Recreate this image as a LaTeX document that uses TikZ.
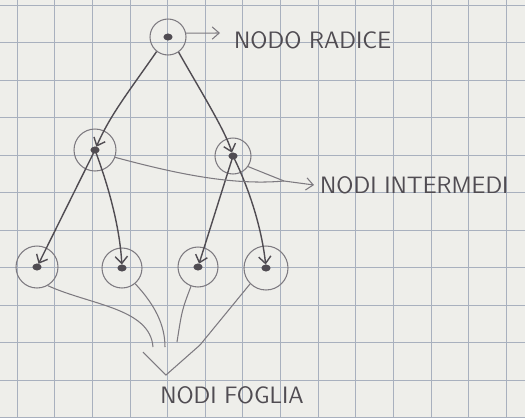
\documentclass[tikz,border=0pt]{standalone}
\usetikzlibrary{arrows.meta}
\definecolor{paper}{RGB}{238,238,234}
\definecolor{gridl}{RGB}{168,176,190}
\definecolor{pencil}{RGB}{80,76,82}
\definecolor{ring}{RGB}{125,122,128}
\newcommand{\GX}{37.65}
\newcommand{\GY}{37.5}

\begin{document}
\begin{tikzpicture}[x=0.02cm, y=-0.02cm,
    gridline/.style={draw=gridl, line width=0.5pt},
    vertex/.style={circle, draw=ring, line width=0.6pt, inner sep=0pt, minimum size=#1},
    vertex/.default=0.8cm,
    edge/.style={draw=pencil, line width=0.8pt, shorten >=2pt,
      -{Straight Barb[length=4pt, width=7pt]}},
    pointer/.style={draw=ring, line width=0.6pt},
    tag/.style={font=\sffamily\fontsize{13.5}{15}\selectfont, text=pencil},
  ]

  %% ================= the squared paper =================
  \fill[paper] (0,0) rectangle (525,417);
  \useasboundingbox (0,0) rectangle (525,417);
  \foreach \i in {0,...,13} {
    \draw[gridline] ({17+\i*\GX},0) -- ({17+\i*\GX},417);
  }
  \foreach \j in {0,...,11} {
    \draw[gridline] (0,{5+\j*\GY}) -- (525,{5+\j*\GY});
  }

  %% ================= the tree =================
  \node[vertex=0.72cm] (root)  at (168,37)  {};
  \node[vertex=0.84cm] (intL)  at (95,150)  {};
  \node[vertex=0.72cm] (intR)  at (233,156) {};
  \node[vertex=0.84cm] (leafA) at (37,267)  {};
  \node[vertex=0.80cm] (leafB) at (122,268) {};
  \node[vertex=0.80cm] (leafC) at (198,267) {};
  \node[vertex=0.88cm] (leafD) at (266,268) {};
  \foreach \n in {root,intL,intR,leafA,leafB,leafC,leafD} {
    \fill[pencil] (\n) ellipse (2.6pt and 2pt);
  }

  \draw[edge] (root.232) .. controls (130,90) and (110,115) .. (intL.center);
  \draw[edge] (root.305) .. controls (200,90) and (225,130) .. (intR.center);
  \draw[edge] (intL.center) -- (leafA.center);
  \draw[edge] (intL.center) .. controls (110,190) and (120,230) .. (leafB.center);
  \draw[edge] (intR.center) -- (leafC.center);
  \draw[edge] (intR.center) .. controls (250,190) and (262,230) .. (leafD.center);

  %% ================= the labels =================
  \node[tag, anchor=west] (lblRoot) at (228,40)  {NODO RADICE};
  \node[tag, anchor=west] (lblMid)  at (314,185) {NODI INTERMEDI};
  \node[tag]              (lblLeaf) at (232,395) {NODI FOGLIA};

  \coordinate (rootto) at (220,33);
  \draw[pointer, -{Straight Barb[length=4pt, width=7pt]}] (root.12) -- (rootto);

  \coordinate (midjoin) at (284,181);
  \draw[pointer] (intL.-20) .. controls (170,172) and (230,186) .. (midjoin);
  \draw[pointer] (intR.-35) -- (midjoin);
  \draw[pointer, -{Straight Barb[length=4pt, width=7pt]}] (midjoin) -- (lblMid.west);

  \coordinate (vL) at (143,352);
  \coordinate (vB) at (166,375);
  \coordinate (vR) at (200,345);
  \draw[pointer] (vL) -- (vB) -- (vR);
  \draw[pointer] (leafA.-60) .. controls (90,305) and (150,308) .. (153,347);
  \draw[pointer] (leafB.-50) .. controls (155,305) and (165,325) .. (165,347);
  \draw[pointer] (leafC.-110) .. controls (182,310) .. (177,342);
  \draw[pointer] (leafD.-135) -- (vR);

\end{tikzpicture}
\end{document}
